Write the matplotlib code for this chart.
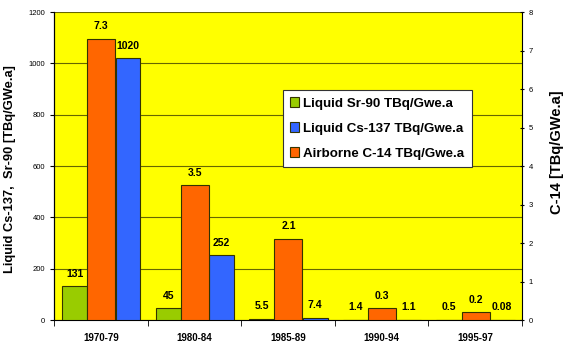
import numpy as np
import matplotlib
import matplotlib.pyplot as plt

matplotlib.rcParams.update({'font.family': 'Liberation Sans'})

periods = ['1970-79', '1980-84', '1985-89', '1990-94', '1995-97']
sr90 = [131, 45, 5.5, 1.4, 0.5]
cs137 = [1020, 252, 7.4, 1.1, 0.08]
c14 = [7.3, 3.5, 2.1, 0.3, 0.2]
sr90_lbl = ['131', '45', '5.5', '1.4', '0.5']
cs137_lbl = ['1020', '252', '7.4', '1.1', '0.08']
c14_lbl = ['7.3', '3.5', '2.1', '0.3', '0.2']

green = '#99CC00'
blue = '#3366FF'
orange = '#FF6600'
edge = '#333300'

fig = plt.figure(figsize=(5.63, 3.43), dpi=100)
ax = fig.add_axes([0.096, 0.067, 0.831, 0.898])
ax2 = ax.twinx()
ax.set_facecolor('#FFFF00')

x = np.arange(len(periods))
b1 = ax.bar(x - 0.28, sr90, width=0.27, color=green, edgecolor=edge, linewidth=0.8,
            label='Liquid Sr-90 TBq/Gwe.a', zorder=3)
b2 = ax.bar(x + 0.29, cs137, width=0.265, color=blue, edgecolor=edge, linewidth=0.8,
            label='Liquid Cs-137 TBq/Gwe.a', zorder=3)
b3 = ax2.bar(x + 0.005, c14, width=0.30, color=orange, edgecolor=edge, linewidth=0.8,
             label='Airborne C-14 TBq/Gwe.a', zorder=3)

for i in range(len(periods)):
    ax.text(x[i] - 0.28, sr90[i] + 30, sr90_lbl[i], ha='center', va='bottom',
            fontsize=7.5, fontweight='bold')
    ax.text(x[i] + 0.29, cs137[i] + 30, cs137_lbl[i], ha='center', va='bottom',
            fontsize=7.5, fontweight='bold')
    ax2.text(x[i] + 0.005, c14[i] + 0.2, c14_lbl[i], ha='center', va='bottom',
             fontsize=7.5, fontweight='bold')

ax.set_xlim(-0.5, len(periods) - 0.5)
ax.set_ylim(0, 1200)
ax2.set_ylim(0, 8)
ax.set_yticks(range(0, 1201, 200))
ax2.set_yticks(range(0, 9))
ax.grid(axis='y', color='#666600', linewidth=0.8, zorder=0)
ax.set_axisbelow(True)

ax.set_xticks(x)
ax.set_xticklabels(periods, fontsize=7, fontweight='bold')
ax.set_xticks(np.arange(-0.5, len(periods)), minor=True)
ax.tick_params(axis='x', which='major', length=0, pad=9)
ax.tick_params(axis='x', which='minor', length=4, direction='out')
ax.tick_params(axis='y', labelsize=5.5, length=3, direction='out')
ax2.tick_params(axis='y', labelsize=5.5, length=3, direction='inout')

for a in (ax, ax2):
    a.spines['top'].set_visible(False)
ax.spines['right'].set_visible(False)
ax2.spines['bottom'].set_visible(False)

ax.set_ylabel('Liquid Cs-137,  Sr-90 [TBq/GWe.a]', fontsize=9.3, fontweight='bold')
ax.yaxis.set_label_coords(-0.081, 0.49)
ax2.set_ylabel('C-14 [TBq/GWe.a]', fontsize=10.5, fontweight='bold')
ax2.yaxis.set_label_coords(1.06, 0.545)

leg = ax2.legend([b1, b2, b3], [b1.get_label(), b2.get_label(), b3.get_label()],
                 loc='upper left', bbox_to_anchor=(0.489, 0.747),
                 prop={'weight': 'bold', 'size': 9.6}, frameon=True, fancybox=False,
                 framealpha=1, facecolor='white',
                 edgecolor='#333333', handlelength=0.7, handleheight=0.7,
                 handletextpad=0.3, labelspacing=0.95, borderpad=0.55,
                 borderaxespad=0)
leg.get_frame().set_linewidth(0.8)
leg.set_zorder(10)

plt.savefig('out.png', dpi=100)
